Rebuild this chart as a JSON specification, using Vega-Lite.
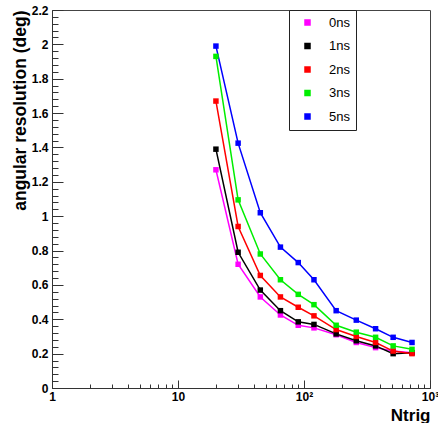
{
  "$schema": "https://vega.github.io/schema/vega-lite/v6.json",
  "width": 378,
  "height": 378,
  "autosize": {"type": "none"},
  "padding": {"left": 52, "top": 10, "right": 8, "bottom": 35},
  "background": "white",
  "config": {
    "view": {"stroke": "#444", "strokeWidth": 1},
    "font": "Liberation Sans",
    "axis": {"grid": false, "domainColor": "#333", "tickColor": "#333", "labelColor": "black", "titleColor": "black"}
  },
  "data": {
    "values": [
      {"n": 20, "s": "0ns", "r": 1.27}, {"n": 30, "s": "0ns", "r": 0.72}, {"n": 45, "s": "0ns", "r": 0.53}, {"n": 65, "s": "0ns", "r": 0.425}, {"n": 90, "s": "0ns", "r": 0.365}, {"n": 120, "s": "0ns", "r": 0.35}, {"n": 180, "s": "0ns", "r": 0.31}, {"n": 260, "s": "0ns", "r": 0.265}, {"n": 370, "s": "0ns", "r": 0.235}, {"n": 510, "s": "0ns", "r": 0.215}, {"n": 720, "s": "0ns", "r": 0.205},
      {"n": 20, "s": "1ns", "r": 1.39}, {"n": 30, "s": "1ns", "r": 0.79}, {"n": 45, "s": "1ns", "r": 0.57}, {"n": 65, "s": "1ns", "r": 0.45}, {"n": 90, "s": "1ns", "r": 0.385}, {"n": 120, "s": "1ns", "r": 0.37}, {"n": 180, "s": "1ns", "r": 0.315}, {"n": 260, "s": "1ns", "r": 0.275}, {"n": 370, "s": "1ns", "r": 0.245}, {"n": 510, "s": "1ns", "r": 0.2}, {"n": 720, "s": "1ns", "r": 0.205},
      {"n": 20, "s": "2ns", "r": 1.67}, {"n": 30, "s": "2ns", "r": 0.94}, {"n": 45, "s": "2ns", "r": 0.655}, {"n": 65, "s": "2ns", "r": 0.53}, {"n": 90, "s": "2ns", "r": 0.47}, {"n": 120, "s": "2ns", "r": 0.42}, {"n": 180, "s": "2ns", "r": 0.34}, {"n": 260, "s": "2ns", "r": 0.3}, {"n": 370, "s": "2ns", "r": 0.265}, {"n": 510, "s": "2ns", "r": 0.215}, {"n": 720, "s": "2ns", "r": 0.2},
      {"n": 20, "s": "3ns", "r": 1.93}, {"n": 30, "s": "3ns", "r": 1.095}, {"n": 45, "s": "3ns", "r": 0.78}, {"n": 65, "s": "3ns", "r": 0.63}, {"n": 90, "s": "3ns", "r": 0.545}, {"n": 120, "s": "3ns", "r": 0.485}, {"n": 180, "s": "3ns", "r": 0.365}, {"n": 260, "s": "3ns", "r": 0.325}, {"n": 370, "s": "3ns", "r": 0.295}, {"n": 510, "s": "3ns", "r": 0.245}, {"n": 720, "s": "3ns", "r": 0.225},
      {"n": 20, "s": "5ns", "r": 1.99}, {"n": 30, "s": "5ns", "r": 1.425}, {"n": 45, "s": "5ns", "r": 1.02}, {"n": 65, "s": "5ns", "r": 0.82}, {"n": 90, "s": "5ns", "r": 0.73}, {"n": 120, "s": "5ns", "r": 0.63}, {"n": 180, "s": "5ns", "r": 0.45}, {"n": 260, "s": "5ns", "r": 0.395}, {"n": 370, "s": "5ns", "r": 0.345}, {"n": 510, "s": "5ns", "r": 0.295}, {"n": 720, "s": "5ns", "r": 0.265}
    ]
  },
  "layer": [
    {
      "mark": {"type": "line", "strokeWidth": 1.5},
      "encoding": {
        "x": {"field": "n", "type": "quantitative", "scale": {"type": "log", "domain": [1, 1000], "nice": false},
          "axis": {"orient": "bottom", "values": [1, 10, 100, 1000], "tickSize": -8, "labelPadding": 11, "labelFlush": false, "labelFontSize": 12, "labelFontWeight": "bold",
            "labelExpr": "datum.value == 100 ? '10²' : datum.value == 1000 ? '10³' : datum.label",
            "title": "Ntrig", "titleAnchor": "end", "titleFontSize": 17, "titleFontWeight": "bold", "titlePadding": 5}},
        "y": {"field": "r", "type": "quantitative", "scale": {"domain": [0, 2.2], "nice": false},
          "axis": {"orient": "left", "values": [0, 0.2, 0.4, 0.6, 0.8, 1, 1.2, 1.4, 1.6, 1.8, 2, 2.2], "format": "~g", "tickSize": -11, "labelPadding": 15, "labelFlush": false, "labelFontSize": 12, "labelFontWeight": "bold",
            "title": "angular resolution (deg)", "titleAnchor": "end", "titleFontSize": 17.5, "titleFontWeight": "bold", "titlePadding": 2}},
        "color": {"field": "s", "type": "nominal",
          "scale": {"domain": ["0ns", "1ns", "2ns", "3ns", "5ns"], "range": ["#ff00ff", "#000000", "#ff0000", "#00ee00", "#0000ff"]},
          "legend": {"orient": "none", "legendX": 237, "legendY": 0, "title": null, "fillColor": "white", "strokeColor": "#222", "padding": 6, "rowPadding": 9.5,
            "symbolType": "square", "symbolSize": 25, "symbolOffset": 6, "labelOffset": 15, "labelFontSize": 13, "labelColor": "black"}}
      }
    },
    {
      "mark": {"type": "square", "size": 30, "opacity": 1},
      "encoding": {
        "x": {"field": "n", "type": "quantitative",
          "axis": {"orient": "bottom", "values": [2, 3, 4, 5, 6, 7, 8, 9, 20, 30, 40, 50, 60, 70, 80, 90, 200, 300, 400, 500, 600, 700, 800, 900], "tickSize": -4, "labels": false, "domain": false, "title": null}},
        "y": {"field": "r", "type": "quantitative",
          "axis": {"orient": "left", "values": [0.04, 0.08, 0.12, 0.16, 0.24, 0.28, 0.32, 0.36, 0.44, 0.48, 0.52, 0.56, 0.64, 0.68, 0.72, 0.76, 0.84, 0.88, 0.92, 0.96, 1.04, 1.08, 1.12, 1.16, 1.24, 1.28, 1.32, 1.36, 1.44, 1.48, 1.52, 1.56, 1.64, 1.68, 1.72, 1.76, 1.84, 1.88, 1.92, 1.96, 2.04, 2.08, 2.12, 2.16], "tickSize": -6, "labels": false, "domain": false, "title": null}},
        "color": {"field": "s", "type": "nominal"}
      }
    }
  ],
  "resolve": {"axis": {"x": "independent", "y": "independent"}}
}
